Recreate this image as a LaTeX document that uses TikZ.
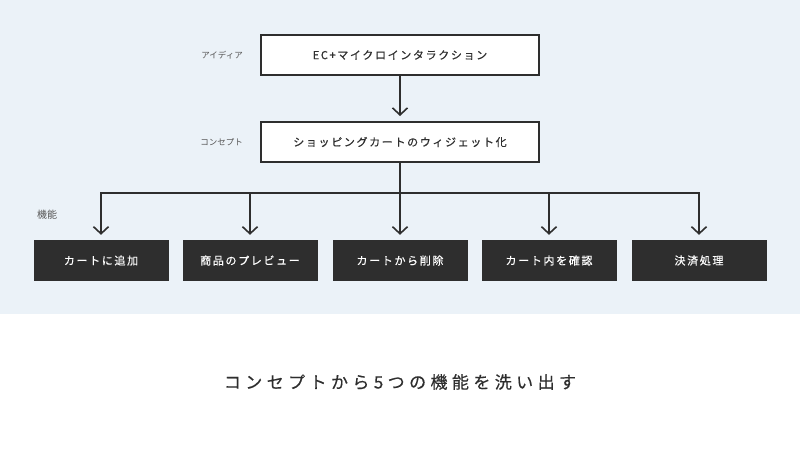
\documentclass[tikz,border=0pt]{standalone}
\usepackage{fontspec}
\setmainfont{Noto Sans CJK JP}
\newfontfamily\jpbox[LetterSpace=15,FakeBold=0.5]{Noto Sans CJK JP}
\newfontfamily\jpcap[LetterSpace=26,FakeBold=0.4]{Noto Sans CJK JP}
\newfontfamily\jplab{Noto Sans CJK JP}
\usetikzlibrary{arrows.meta}
\definecolor{panelbg}{HTML}{EBF2F8}
\definecolor{ink}{HTML}{2E2E2E}
\definecolor{labgray}{HTML}{555555}
\tikzset{
  whitebox/.style={draw=ink, line width=2pt, fill=white, minimum width=278pt, minimum height=40pt, inner sep=0pt, font=\jpbox\fontsize{11}{13}\selectfont, text=ink},
  darkbox/.style={fill=ink, minimum width=135pt, minimum height=41pt, inner sep=0pt, font=\jpbox\fontsize{11}{13}\selectfont, text=white},
  sidelabel/.style={anchor=east, inner sep=0pt, font=\jplab\fontsize{8.5}{10}\selectfont, text=labgray},
  conn/.style={draw=ink, line width=1.6pt},
  arr/.style={conn, -{Straight Barb[length=7pt,width=15pt,line width=1.6pt]}, shorten >=5pt},
}
\begin{document}
\begin{tikzpicture}[x=1pt,y=-1pt]
\useasboundingbox (0,0) rectangle (800,450);
\fill[panelbg] (0,0) rectangle (800,314);
\fill[white] (0,314) rectangle (800,450);

\node[whitebox] (idea) at (400,55) {EC+マイクロインタラクション};
\node[whitebox] (concept) at (400,142) {ショッピングカートのウィジェット化};

\node[sidelabel] (lidea) at (243,55) {アイディア};
\node[sidelabel] (lconcept) at (243,142) {コンセプト};
\node[sidelabel, anchor=west, font=\jplab\fontsize{10}{12}\selectfont] (lfunc) at (37,215) {機能};

\node[darkbox] (f1) at (101,260.5) {カートに追加};
\node[darkbox] (f2) at (250,260.5) {商品のプレビュー};
\node[darkbox] (f3) at (400,260.5) {カートから削除};
\node[darkbox] (f4) at (549,260.5) {カート内を確認};
\node[darkbox] (f5) at (699,260.5) {決済処理};

\draw[arr] (idea) -- (concept);
\coordinate (bus) at (400,193);
\draw[conn] (concept.south) -- (bus);
\foreach \f in {f1,f2,f3,f4,f5}{
  \draw[arr] (bus) -| (\f);
}

\node[inner sep=0pt, font=\jpcap\fontsize{17}{20}\selectfont, text=ink] (caption) at (400,382) {コンセプトから5つの機能を洗い出す};
\end{tikzpicture}
\end{document}
